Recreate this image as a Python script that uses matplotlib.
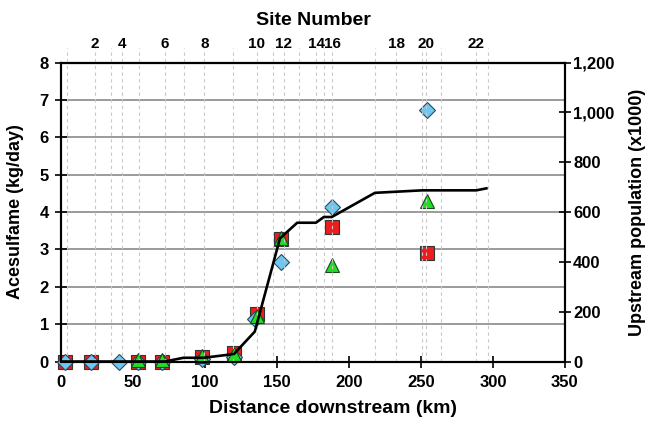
import matplotlib
matplotlib.use("Agg")
import matplotlib.pyplot as plt
from matplotlib.ticker import FuncFormatter

plt.rcParams['font.family'] = ['Liberation Sans', 'DejaVu Sans']
plt.rcParams['font.weight'] = 'bold'

# sampling site positions along the river (km downstream)
site_km = [3.75, 23.4, 34.5, 42.2, 53.7, 72.2, 85.6, 99.5, 119.6, 135.8, 147.2, 154.7,
           165.3, 177.4, 182.7, 188.5, 217.8, 232.9, 251.0, 253.8, 264.2, 288.5, 296.5]
site_labels = ['', '2', '', '4', '', '6', '', '8', '', '10', '', '12',
               '', '14', '', '16', '', '18', '', '20', '', '22', '']

# acesulfame loads (kg/day), three sampling campaigns
blue_km = [2.5, 21, 40, 53, 70, 98, 120, 135, 153, 188, 254]
blue_load = [0, 0, 0, 0, 0, 0.08, 0.12, 1.15, 2.67, 4.13, 6.72]
red_km = [2.5, 21, 53, 70, 98, 120, 136, 153, 188, 254]
red_load = [0, 0, 0, 0, 0.12, 0.24, 1.26, 3.29, 3.6, 2.91]
green_km = [53, 70, 98, 120, 136, 153, 188, 254]
green_load = [0.03, 0.03, 0.14, 0.2, 1.22, 3.3, 2.58, 4.3]

# upstream population (x1000)
pop_km = [0, 72, 85, 99, 120, 134.5, 152, 164, 177, 182.5, 188, 218, 251, 288.5, 295.5]
pop = [0, 0, 15, 15, 30, 120, 494, 557, 557, 580, 580, 677, 687, 687, 695]

fig = plt.figure(figsize=(6.56, 4.21), dpi=100)
ax = fig.add_axes([0.0934, 0.1413, 0.7676, 0.7102])

ax.set_xlim(0, 350)
ax.set_ylim(0, 8)

# horizontal grid
for y in range(1, 8):
    ax.axhline(y, color='#8a8a8a', lw=1.2, zorder=1)

ax.plot(red_km, red_load, ls='none', marker='s', ms=10, mfc='#ee1c1c',
        mec='#333333', mew=0.8, zorder=3, clip_on=False)
ax.plot(blue_km, blue_load, ls='none', marker='D', ms=8, mfc='#6ec6f2',
        mec='#2d4a5a', mew=0.8, zorder=4, clip_on=False)
ax.plot(green_km, green_load, ls='none', marker='^', ms=10, mfc='#22dd22',
        mec='#1a4a1a', mew=0.8, zorder=5, clip_on=False)

# site lines, dashed, running up past the top spine
for x in site_km:
    ax.plot([x, x], [0, 8.4], color='#c8c8c8', lw=0.8, ls=(0, (3, 3)),
            zorder=6, clip_on=False)

ax.tick_params(axis='both', direction='inout', length=8, width=1.2,
               labelsize=12, pad=5)
ax.tick_params(axis='x', pad=6)
ax.set_xticks(range(0, 351, 50))
ax.set_yticks(range(0, 9))
for lab in ax.get_xticklabels() + ax.get_yticklabels():
    lab.set_fontweight('bold')
for s in ax.spines.values():
    s.set_linewidth(1.5)
ax.set_xlabel('Distance downstream (km)', fontsize=14, fontweight='bold')
ax.xaxis.set_label_coords(0.54, -0.13)
ax.set_ylabel('Acesulfame (kg/day)', fontsize=13, fontweight='bold')
ax.yaxis.set_label_coords(-0.075, 0.5)

# right axis: population
ax2 = ax.twinx()
ax2.set_ylim(0, 1200)
ax2.plot(pop_km, pop, color='black', lw=1.9, zorder=7)
ax2.set_yticks(range(0, 1201, 200))
ax2.yaxis.set_major_formatter(FuncFormatter(lambda v, p: f'{int(v):,}'))
ax2.tick_params(axis='y', direction='inout', length=8, width=1.2, labelsize=12, pad=2)
for lab in ax2.get_yticklabels():
    lab.set_fontweight('bold')
for s in ax2.spines.values():
    s.set_linewidth(1.5)
ax2.set_ylabel('Upstream population (x1000)', fontsize=13, fontweight='bold')
ax2.yaxis.set_label_coords(1.128, 0.5)

# top axis: site numbers
ax3 = ax.secondary_xaxis('top')
ax3.set_xticks(site_km)
ax3.set_xticklabels(site_labels)
ax3.tick_params(axis='x', length=0, labelsize=11, pad=8)
for lab in ax3.get_xticklabels():
    lab.set_fontweight('bold')
ax3.spines['top'].set_linewidth(1.5)
ax3.set_xlabel('Site Number', fontsize=14, fontweight='bold', labelpad=9)

fig.savefig('out.png', dpi=100)
